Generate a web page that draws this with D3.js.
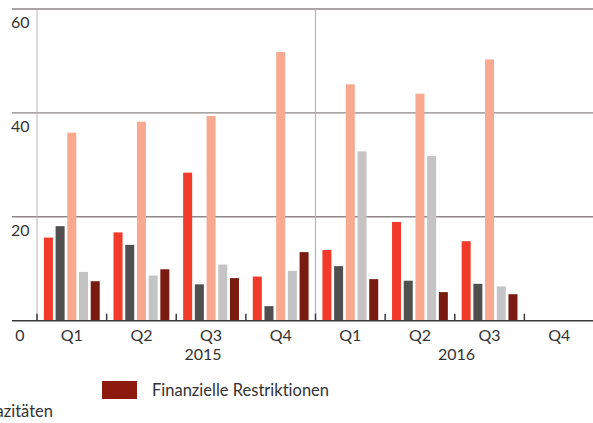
<!DOCTYPE html>
<html>
<head>
<meta charset="utf-8">
<script src="https://cdn.jsdelivr.net/npm/d3@7"></script>
<style>
  html, body { margin: 0; padding: 0; background: #fff; }
  svg text { font-family: Lato, "Open Sans", sans-serif; fill: #333; font-variant-ligatures: none; }
</style>
</head>
<body>
<svg id="chart" width="593" height="423"></svg>
<script>
// Quarters shown on the x axis (two years, eight slots)
const years = ["2015", "2016"];
const quarters = ["Q1", "Q2", "Q3", "Q4"];
const periods = ["2015-Q1", "2015-Q2", "2015-Q3", "2015-Q4", "2016-Q1", "2016-Q2", "2016-Q3", "2016-Q4"];

// Five series per quarter (percent); 2016-Q4 has no data yet
const seriesNames = ["s1", "s2", "s3", "s4", "Finanzielle Restriktionen"];
const seriesColors = ["#f23a2b", "#505050", "#f8a98f", "#c4c4c4", "#7a1b12"];
const s1 = [16.0, 17.0, 28.5, 8.5, 13.6, 19.0, 15.3, null];
const s2 = [18.2, 14.6, 7.0, 2.8, 10.5, 7.7, 7.1, null];
const s3 = [36.2, 38.3, 39.4, 51.7, 45.5, 43.7, 50.3, null];
const s4 = [9.4, 8.7, 10.8, 9.6, 32.6, 31.7, 6.6, null];
const s5 = [7.6, 9.9, 8.2, 13.2, 8.0, 5.5, 5.1, null];
const seriesValues = [s1, s2, s3, s4, s5];

const yTicks = [20, 40, 60];

const svg = d3.select("#chart");

const x0 = d3.scaleBand().domain(periods).range([37, 594]).padding(0);
const x1 = d3.scaleBand().domain(d3.range(seriesNames.length))
  .range([0, x0.bandwidth()]).paddingInner(0.23).paddingOuter(0.59);
const y = d3.scaleLinear().domain([0, 60]).range([320.7, 9]);

// Horizontal gridlines
svg.append("g").selectAll("line").data(yTicks).join("line")
  .attr("x1", 12).attr("x2", 593)
  .attr("y1", d => y(d)).attr("y2", d => y(d))
  .attr("stroke", "#8d8787").attr("stroke-width", 1.4);

// Y tick labels sit below their gridlines
svg.append("g").selectAll("text").data(yTicks).join("text")
  .attr("x", 11).attr("y", d => y(d) + 19)
  .attr("font-size", 16).text(d => d);

// Left axis line and the divider between years
svg.append("line").attr("x1", 37).attr("x2", 37).attr("y1", y(60)).attr("y2", y(0))
  .attr("stroke", "#b8b4b4").attr("stroke-width", 1);
svg.append("line").attr("x1", x0("2016-Q1")).attr("x2", x0("2016-Q1"))
  .attr("y1", y(60)).attr("y2", y(0))
  .attr("stroke", "#b8b4b4").attr("stroke-width", 1.2);

// Bars
const rows = periods.map((p, i) => ({ p, vals: seriesValues.map(s => s[i]) }));
svg.append("g").selectAll("g").data(rows).join("g")
  .attr("transform", d => `translate(${x0(d.p)},0)`)
  .selectAll("rect")
  .data(d => d.vals.map((v, k) => ({ v, k })).filter(e => e.v != null))
  .join("rect")
  .attr("x", d => x1(d.k))
  .attr("width", x1.bandwidth())
  .attr("y", d => y(d.v))
  .attr("height", d => y(0) - y(d.v))
  .attr("fill", d => seriesColors[d.k]);

// Baseline with small ticks between quarters
svg.append("line").attr("x1", 12).attr("x2", 593).attr("y1", y(0)).attr("y2", y(0))
  .attr("stroke", "#3a3a3a").attr("stroke-width", 1.5);
svg.append("g").selectAll("line").data(periods).join("line")
  .attr("x1", d => x0(d)).attr("x2", d => x0(d))
  .attr("y1", y(0) - 7).attr("y2", y(0))
  .attr("stroke", "#3a3a3a").attr("stroke-width", 1.5);

// Zero label and quarter labels
svg.append("text").attr("x", 20).attr("y", 341).attr("text-anchor", "middle")
  .attr("font-size", 16).text("0");
svg.append("g").selectAll("text").data(periods).join("text")
  .attr("x", d => x0(d) + x0.bandwidth() / 2).attr("y", 341)
  .attr("text-anchor", "middle").attr("font-size", 16)
  .text(d => d.split("-")[1]);

// Year labels
const yearOffsets = { "2015": -8, "2016": -33 };
svg.append("g").selectAll("text").data(years).join("text")
  .attr("x", d => x0(d + "-Q3") + x0.bandwidth() / 2 + yearOffsets[d])
  .attr("y", 360).attr("text-anchor", "middle").attr("font-size", 16)
  .text(d => d);

// Legend
svg.append("rect").attr("x", 102).attr("y", 381).attr("width", 35).attr("height", 18)
  .attr("fill", "#8c1a0e");
svg.append("text").attr("x", 152).attr("y", 396).attr("font-size", 16.5)
  .text(seriesNames[4]);
svg.append("text").attr("x", 53).attr("y", 417).attr("text-anchor", "end")
  .attr("font-size", 16.5).text("Kapazitäten");
</script>
</body>
</html>
